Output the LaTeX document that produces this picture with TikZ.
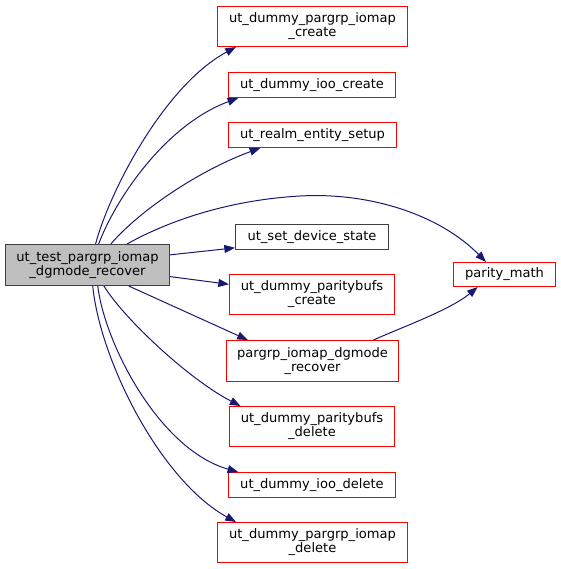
\documentclass[tikz,border=0pt]{standalone}
\usepackage{fontspec}
\setmainfont{DejaVu Sans}
\usetikzlibrary{arrows.meta}
\definecolor{edgeblue}{RGB}{25,25,112}
\definecolor{boxred}{RGB}{255,0,0}
\definecolor{boxgray}{RGB}{191,191,191}
\definecolor{darkborder}{RGB}{64,64,64}
\tikzset{
  fnbox/.style={draw=boxred, fill=white, line width=0.75pt, inner sep=0pt, align=center,
    font=\fontsize{9.8pt}{10.5pt}\selectfont},
  plainbox/.style={fnbox, draw=darkborder},
  mainbox/.style={fnbox, draw=darkborder, fill=boxgray},
  call/.style={draw=edgeblue, line width=0.75pt, -{Triangle[length=8pt,width=6pt]}}
}
\begin{document}
\begin{tikzpicture}[x=0.75pt,y=-0.75pt]
\useasboundingbox (0,0) rectangle (561,569);
\node[mainbox, minimum width=123pt, minimum height=30.75pt] (main) at (87.5,265) {ut\_test\_pargrp\_iomap\\\_dgmode\_recover};
\node[fnbox, minimum width=142.5pt, minimum height=30pt] (n1) at (312.5,26.5) {ut\_dummy\_pargrp\_iomap\\\_create};
\node[fnbox, minimum width=125.25pt, minimum height=18.75pt] (n2) at (312,85) {ut\_dummy\_ioo\_create};
\node[fnbox, minimum width=126pt, minimum height=18.75pt] (n3) at (312.5,135) {ut\_realm\_entity\_setup};
\node[plainbox, minimum width=114.75pt, minimum height=18.75pt] (n4) at (312,237) {ut\_set\_device\_state};
\node[fnbox, minimum width=123.75pt, minimum height=30pt] (n5) at (312,294.5) {ut\_dummy\_paritybufs\\\_create};
\node[fnbox, minimum width=129pt, minimum height=30.75pt] (n6) at (312.5,361) {pargrp\_iomap\_dgmode\\\_recover};
\node[fnbox, minimum width=123.75pt, minimum height=30pt] (n7) at (312,426.5) {ut\_dummy\_paritybufs\\\_delete};
\node[fnbox, minimum width=125.25pt, minimum height=18.75pt] (n8) at (312,485) {ut\_dummy\_ioo\_delete};
\node[fnbox, minimum width=142.5pt, minimum height=30pt] (n9) at (312.5,542.5) {ut\_dummy\_pargrp\_iomap\\\_delete};
\node[fnbox, minimum width=76.5pt, minimum height=18pt] (pm) at (504.5,274.5) {parity\_math};

\draw[call] (main.69) .. controls (110,190) and (165,85) .. (n1.195);
\draw[call] (main.62) .. controls (115,200) and (165,125) .. (n2.190);
\draw[call] (main.42) .. controls (140,210) and (200,170) .. (n3.194);
\draw[call] (main.28) .. controls (170,220) and (230,200) .. (300,196) .. controls (370,192) and (440,215) .. (pm.146);
\draw[call] (main.7) -- (n4.188);
\draw[call] (main.-8) -- (n5.173);
\draw[call] (main.-27) -- (n6.162);
\draw[call] (main.-52) .. controls (125,320) and (190,380) .. (n7.164);
\draw[call] (main.-64) .. controls (105,345) and (160,450) .. (n8.170);
\draw[call] (main.-76) .. controls (100,360) and (160,480) .. (n9.165);
\draw[call] (n6.19) .. controls (400,328) and (450,310) .. (pm.205);
\end{tikzpicture}
\end{document}
